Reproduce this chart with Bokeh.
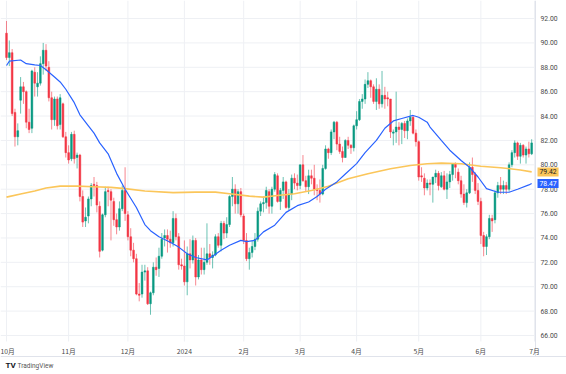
from bokeh.plotting import figure
from bokeh.models import (ColumnDataSource, FixedTicker, Label, Span,
                          NumeralTickFormatter, Range1d)
from bokeh.embed import file_html
from bokeh.resources import INLINE

# ---------------- data ----------------
month_labels = ["10月", "11月", "12月", "2024", "2月", "3月", "4月", "5月", "6月", "7月"]
bars_per_month = [22, 21, 20, 21, 20, 20, 22, 22, 19]
price_ticks = [66, 68, 70, 72, 74, 76, 78, 80, 82, 84, 86, 88, 90, 92]

opens = [
    90.8, 88.8, 89.2, 84.3, 82.3, 85.3, 86.4, 86.0, 83.5, 83.0, 87.6, 86.4, 86.7, 88.3, 89.4, 88.0, 85.5, 83.7, 85.4, 83.3, 85.0, 82.3,
    81.0, 80.5, 82.5, 80.6, 80.8, 77.4, 75.4, 75.8, 77.2, 78.4, 78.3, 76.6, 73.0, 75.9, 77.9, 77.8, 77.0, 75.5, 74.9, 76.4, 77.9,
    75.9, 74.1, 73.0, 72.3, 69.4, 69.4, 71.2, 71.3, 68.6, 69.5, 71.6, 71.5, 72.5, 74.0, 74.2, 73.9, 73.6, 75.6, 74.1, 71.8,
    71.7, 70.4, 72.7, 72.2, 73.8, 70.8, 72.2, 71.4, 72.0, 72.7, 72.4, 72.6, 74.1, 73.4, 75.2, 74.4, 75.1, 77.4, 78.0, 76.8, 77.8,
    75.8, 73.8, 72.3, 72.8, 73.3, 73.9, 76.2, 76.8, 76.9, 77.8, 76.6, 78.0, 79.1, 77.0, 77.9, 78.6, 76.5, 77.6, 78.9, 78.5,
    78.3, 80.0, 78.7, 78.2, 79.1, 78.9, 78.0, 77.9, 77.6, 79.7, 81.3, 81.0, 82.7, 83.5, 81.7, 81.1, 80.6, 82.0, 81.6, 81.4,
    83.2, 83.7, 85.2, 85.4, 86.6, 86.9, 86.4, 85.2, 86.2, 85.0, 85.7, 85.5, 85.4, 82.6, 82.7, 83.1, 82.9, 83.4, 82.8, 83.6, 83.9, 82.6,
    81.9, 79.1, 78.9, 78.1, 78.5, 78.4, 79.0, 79.3, 78.2, 79.1, 78.0, 78.6, 79.2, 80.1, 79.4, 78.7, 77.6, 76.9, 77.7, 79.8, 79.2, 77.9,
    77.0, 74.2, 73.3, 74.1, 75.6, 75.5, 77.7, 78.3, 78.0, 78.3, 78.0, 80.0, 81.0, 81.8, 80.7, 81.6, 80.8, 81.3, 80.9,
]
highs = [
    91.8, 90.2, 89.5, 84.6, 83.4, 87.2, 86.8, 86.1, 84.6, 87.8, 88.0, 87.6, 88.9, 90.0, 89.9, 88.5, 86.0, 85.6, 85.6, 85.8, 85.1, 82.7,
    81.6, 82.7, 82.8, 81.0, 80.9, 77.9, 76.5, 77.4, 78.5, 79.0, 78.6, 77.0, 76.0, 78.2, 78.2, 78.0, 77.3, 76.0, 77.0, 78.3, 79.8,
    76.2, 74.8, 73.6, 72.7, 70.3, 71.8, 71.8, 71.6, 69.6, 72.0, 72.4, 73.2, 74.4, 74.7, 74.7, 74.6, 76.2, 76.0, 74.4, 72.3,
    73.8, 73.3, 73.9, 74.2, 74.0, 72.6, 73.2, 73.2, 75.2, 73.5, 72.9, 74.3, 74.4, 75.4, 75.4, 75.7, 77.5, 79.0, 78.4, 78.0, 78.1,
    76.0, 74.4, 73.2, 73.8, 74.4, 76.5, 77.0, 77.4, 78.2, 78.0, 78.2, 79.4, 79.3, 78.1, 79.0, 78.7, 78.0, 79.2, 79.3, 79.2,
    80.0, 80.8, 79.1, 79.6, 79.6, 80.0, 78.4, 78.8, 80.0, 81.6, 81.4, 82.9, 83.6, 83.6, 82.3, 81.5, 82.1, 82.3, 81.7, 83.3,
    84.4, 85.4, 85.8, 87.0, 87.6, 87.0, 86.6, 87.1, 86.6, 87.7, 86.4, 86.0, 85.4, 82.9, 86.0, 83.5, 83.5, 83.6, 83.8, 84.5, 84.0, 82.9,
    82.0, 79.8, 79.3, 78.8, 78.8, 79.0, 79.6, 79.5, 79.4, 79.5, 79.3, 79.5, 80.1, 80.2, 79.7, 79.1, 78.4, 78.0, 80.2, 80.6, 79.4, 78.5,
    77.3, 74.5, 74.3, 75.9, 75.9, 77.9, 78.6, 79.0, 78.7, 78.6, 80.2, 81.2, 82.0, 81.9, 81.8, 81.7, 81.5, 81.9, 82.1,
]
lows = [
    88.6, 88.1, 84.0, 81.5, 81.6, 84.2, 85.0, 83.0, 82.6, 82.6, 85.6, 85.6, 86.5, 87.4, 87.7, 85.2, 82.9, 83.2, 82.9, 82.9, 82.2, 80.6,
    80.1, 80.3, 80.1, 79.7, 77.0, 74.9, 74.9, 75.2, 76.6, 77.4, 76.1, 72.4, 72.9, 75.7, 76.6, 73.8, 75.0, 74.3, 74.6, 76.2, 75.4,
    73.8, 72.5, 72.0, 69.3, 68.8, 69.1, 70.5, 68.5, 67.7, 69.3, 70.9, 70.8, 72.3, 73.3, 72.8, 73.2, 73.3, 73.8, 71.4, 71.4,
    70.1, 69.3, 71.5, 71.9, 70.1, 70.6, 71.0, 71.0, 71.8, 71.8, 71.5, 72.5, 73.2, 72.9, 73.9, 74.0, 74.9, 76.6, 76.0, 76.0, 75.7,
    73.5, 72.1, 71.4, 72.4, 73.0, 73.7, 75.8, 76.1, 76.4, 76.0, 76.0, 77.8, 76.9, 76.3, 77.2, 76.4, 76.3, 77.1, 78.0, 77.9,
    78.0, 78.6, 77.8, 77.6, 78.4, 77.5, 77.1, 76.9, 77.5, 79.6, 80.5, 80.8, 82.1, 81.2, 80.9, 80.2, 80.6, 81.3, 80.9, 81.1,
    82.9, 83.6, 84.6, 85.0, 86.3, 85.5, 85.0, 84.5, 84.6, 84.7, 84.6, 84.8, 82.2, 81.6, 81.8, 81.6, 81.7, 82.2, 82.1, 83.2, 82.5, 81.5,
    78.7, 78.6, 77.5, 77.9, 77.5, 76.9, 78.5, 77.9, 78.1, 77.9, 77.2, 78.1, 78.7, 78.9, 78.4, 77.3, 76.7, 76.5, 77.6, 78.6, 77.6, 76.7,
    73.5, 72.5, 72.6, 73.9, 74.5, 75.2, 77.3, 77.6, 77.6, 77.6, 77.8, 79.8, 80.6, 80.4, 80.1, 80.6, 80.1, 80.6, 80.8,
]
closes = [
    88.8, 89.2, 84.2, 82.3, 82.8, 86.4, 86.0, 83.5, 82.9, 87.7, 86.7, 86.7, 88.3, 89.4, 88.1, 85.5, 83.7, 85.4, 83.2, 85.5, 82.3, 81.0,
    80.4, 82.5, 80.5, 80.8, 77.4, 75.3, 75.7, 77.2, 78.3, 78.3, 76.7, 72.9, 75.9, 77.8, 77.8, 77.1, 75.5, 74.9, 76.4, 77.9, 76.0,
    74.1, 73.0, 72.3, 69.4, 69.3, 71.2, 71.3, 68.6, 69.5, 71.6, 71.4, 72.5, 73.9, 74.2, 73.9, 73.6, 75.6, 74.1, 71.8, 71.7,
    70.4, 72.7, 72.2, 73.8, 70.8, 72.2, 71.4, 72.0, 72.7, 72.4, 72.6, 74.1, 73.4, 75.2, 74.4, 75.1, 77.4, 78.0, 76.8, 77.8, 75.9,
    73.8, 72.3, 72.8, 73.3, 73.9, 76.2, 76.8, 76.9, 77.9, 76.6, 78.0, 79.2, 77.0, 77.9, 78.6, 76.5, 77.6, 78.9, 78.5, 78.3,
    80.0, 78.7, 78.2, 79.1, 78.9, 78.0, 77.9, 77.6, 79.7, 81.3, 81.0, 82.7, 83.5, 81.7, 81.1, 80.6, 82.0, 81.6, 81.4, 83.2,
    83.7, 85.2, 85.4, 86.6, 86.9, 86.4, 85.2, 86.2, 85.0, 85.7, 85.4, 85.4, 82.7, 82.7, 83.1, 82.9, 83.4, 82.8, 83.6, 83.9, 82.6, 81.9,
    79.0, 79.0, 78.1, 78.5, 78.4, 79.0, 79.3, 78.3, 79.1, 78.0, 78.6, 79.2, 80.1, 79.8, 78.7, 77.6, 76.9, 77.7, 79.8, 79.2, 77.9, 77.0,
    74.2, 73.3, 74.1, 75.6, 75.4, 77.7, 78.3, 78.0, 78.3, 78.0, 80.0, 81.0, 81.8, 80.7, 81.6, 80.8, 81.3, 80.9, 81.8,
]

# moving averages sampled along the picture (bar index, value)
ma_fast_bar = [0, 1, 5, 7, 10, 12, 14, 17, 19, 21, 24, 26, 29, 31, 33, 36, 39, 42, 46, 49, 51, 54, 58, 61,
               64, 67, 71, 73, 76, 79, 83, 85, 88, 91, 95, 99, 103, 107, 110, 113, 117, 120, 124, 127,
               131, 134, 137, 140, 144, 146, 149, 150, 154, 157, 161, 164, 167, 170, 174, 178, 181, 185, 186]
ma_fast_val = [88.15, 88.5, 88.6, 88.3, 88.2, 88.15, 87.8, 87.2, 86.8, 86.2, 85.1, 84.1, 83.2, 82.6, 81.8,
               80.9, 79.3, 78.0, 76.5, 75.1, 74.6, 74.1, 73.65, 73.25, 72.7, 72.4, 72.2, 72.5, 73.0, 73.4,
               73.8, 73.7, 73.8, 74.5, 75.05, 76.1, 76.65, 76.95, 77.4, 78.0, 78.6, 79.25, 80.1, 81.0, 82.0,
               83.0, 83.6, 83.8, 84.05, 83.9, 83.5, 83.1, 82.0, 81.2, 80.35, 79.8, 79.0, 78.05, 77.75, 77.75,
               78.0, 78.35, 78.47]
ma_slow_bar = [0, 5, 10, 14, 19, 25, 31, 37, 42, 49, 59, 67, 74, 79, 86, 91, 96, 102, 108, 111, 114,
               121, 128, 136, 143, 149, 154, 161, 168, 175, 182, 186]
ma_slow_val = [77.35, 77.6, 77.85, 78.1, 78.25, 78.25, 78.2, 78.15, 78.05, 77.85, 77.72, 77.76, 77.76,
               77.63, 77.43, 77.35, 77.48, 77.63, 77.9, 78.05, 78.25, 78.85, 79.27, 79.68, 79.95, 80.09,
               80.14, 80.09, 79.88, 79.76, 79.58, 79.42]

n = sum(bars_per_month)
assert len(opens) == len(highs) == len(lows) == len(closes) == n

# ---------------- layout / styling ----------------
UP, DOWN = "#089981", "#F23645"
BLUE, ORANGE = "#2962FF", "#FBC65A"
GRID = "#EEF0F4"
EDGE = "#E0E3EB"
TXT = "#4a4a4a"
W, H = 566, 374
PX_BAR, PX_PRICE = 2.8235, 12.19        # pixels per bar / per price unit
XL = -2.125                             # bar value at the left edge
YT = 93.48                              # price at the top edge


def bx(px):    # canvas x pixel -> bar units
    return XL + px / PX_BAR


def py(px):    # canvas y pixel -> price units
    return YT - px / PX_PRICE


PANE_R, PANE_B = bx(535), py(341)       # right / bottom edge of the price pane

month_ticks = [0]
for c in bars_per_month:
    month_ticks.append(month_ticks[-1] + c)

idx = list(range(n))
colors = [UP if c >= o else DOWN for o, c in zip(opens, closes)]
src = ColumnDataSource(dict(
    x=idx, h=highs, l=lows,
    top=[max(o, c) for o, c in zip(opens, closes)],
    bottom=[min(o, c) for o, c in zip(opens, closes)],
    color=colors,
))

p = figure(width=W, height=H, x_range=Range1d(XL, bx(W)), y_range=Range1d(py(H), YT),
           y_axis_location="right", output_backend="svg", toolbar_location=None,
           min_border_left=0, min_border_top=0, min_border_right=0, min_border_bottom=0)
p.outline_line_color = None
p.background_fill_color = "white"
p.border_fill_color = "white"
p.grid.visible = False

# grid lines of the price pane
p.segment(x0=XL, x1=PANE_R, y0=price_ticks, y1=price_ticks, line_color=GRID, line_width=1)
p.segment(x0=month_ticks, x1=month_ticks, y0=PANE_B, y1=YT, line_color=GRID, line_width=1)


def bare(axis):
    axis.major_tick_line_color = None
    axis.minor_tick_line_color = None
    axis.major_tick_out = 0
    axis.major_tick_in = 0
    axis.minor_tick_out = 0
    axis.minor_tick_in = 0
    axis.axis_line_color = None


# time axis, pinned at the bottom of the price pane
xa = p.xaxis[0]
bare(xa)
xa.fixed_location = PANE_B
xa.ticker = FixedTicker(ticks=month_ticks)
xa.major_label_overrides = {t: lab for t, lab in zip(month_ticks, month_labels)}
xa.major_label_standoff = 4
xa.major_label_text_font = "Noto Sans CJK JP"
xa.major_label_text_font_size = "6.8px"
xa.major_label_text_color = TXT

# price axis, pinned at the right of the price pane
ya = p.yaxis[0]
bare(ya)
ya.fixed_location = PANE_R
ya.ticker = FixedTicker(ticks=price_ticks)
ya.formatter = NumeralTickFormatter(format="0.00")
ya.major_label_standoff = 5
ya.major_label_text_font = "Roboto"
ya.major_label_text_font_size = "6.8px"
ya.major_label_text_color = TXT

# pane borders
p.segment(x0=[PANE_R], x1=[PANE_R], y0=[py(356)], y1=[YT], line_color=EDGE, line_width=1)
p.add_layout(Span(location=py(356), dimension="width", line_color=EDGE, line_width=1))

# candles
p.segment(x0="x", y0="l", x1="x", y1="h", line_color="color", line_alpha=0.6,
          line_width=1, source=src)
p.vbar(x="x", width=0.62, top="top", bottom="bottom", fill_color="color",
       line_color="color", line_width=0.5, source=src)

# moving averages
p.line(ma_slow_bar, ma_slow_val, line_color=ORANGE, line_width=1.6)
p.line(ma_fast_bar, ma_fast_val, line_color=BLUE, line_width=1.2)

# last-value badges on the price scale
for val, bg, fg in [(ma_slow_val[-1], ORANGE, "#131722"), (ma_fast_val[-1], BLUE, "white")]:
    p.add_layout(Label(x=bx(537), y=val, text=f"{val:.2f}", text_font="Roboto",
                       text_font_size="6.8px", text_color=fg, text_align="left",
                       text_baseline="middle", background_fill_color=bg, padding=2))

# TradingView mark
p.add_layout(Label(x=bx(5), y=py(365), text="TV", text_font="Roboto", text_font_style="bold",
                   text_font_size="8px", text_color="#131722", text_baseline="middle"))
p.add_layout(Label(x=bx(17), y=py(365), text="TradingView", text_font="Roboto",
                   text_font_size="6.5px", text_color="#555555", text_baseline="middle"))

open("out.html", "w").write(file_html(p, INLINE))
